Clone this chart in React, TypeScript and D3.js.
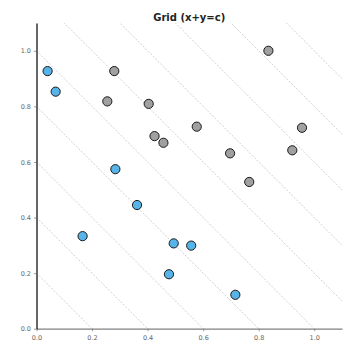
import React, { useEffect, useRef } from 'react';
import * as d3 from 'd3';

// points below the x+y=1 line
const blueX = [0.040, 0.069, 0.284, 0.362, 0.166, 0.494, 0.557, 0.477, 0.716];
const blueY = [0.927, 0.853, 0.574, 0.445, 0.333, 0.307, 0.299, 0.196, 0.122];
// points above it
const grayX = [0.835, 0.280, 0.255, 0.404, 0.425, 0.457, 0.577, 0.697, 0.766, 0.921, 0.956];
const grayY = [1.0, 0.927, 0.818, 0.809, 0.693, 0.669, 0.727, 0.631, 0.528, 0.642, 0.723];

const tickValues = [0, 0.2, 0.4, 0.6, 0.8, 1.0];
const gridLevels = [0.2, 0.4, 0.6, 0.8, 1.0, 1.2, 1.4, 1.6, 1.8, 2.0];
const title = 'Grid (x+y=c)';

const App = () => {
  const ref = useRef<SVGSVGElement>(null);

  useEffect(() => {
    const width = 360;
    const height = 352;
    const margin = { top: 23, right: 18, bottom: 23.3, left: 36.5 };

    const svg = d3.select(ref.current);
    svg.selectAll('*').remove();

    const x = d3.scaleLinear().domain([0, 1.1]).range([margin.left, width - margin.right]);
    const y = d3.scaleLinear().domain([0, 1.1]).range([height - margin.bottom, margin.top]);

    svg.append('defs')
      .append('clipPath')
      .attr('id', 'plot-clip')
      .append('rect')
      .attr('x', x(0))
      .attr('y', y(1.1))
      .attr('width', x(1.1) - x(0))
      .attr('height', y(0) - y(1.1));

    // diagonal x+y=c lines
    svg.append('g')
      .attr('clip-path', 'url(#plot-clip)')
      .selectAll('line')
      .data(gridLevels)
      .enter()
      .append('line')
      .attr('x1', (c) => x(0))
      .attr('y1', (c) => y(c))
      .attr('x2', (c) => x(c))
      .attr('y2', (c) => y(0))
      .attr('stroke', '#c4c4c4')
      .attr('stroke-width', 0.8)
      .attr('stroke-dasharray', '2,1.5');

    const font = 'DejaVu Sans, sans-serif';

    // x axis
    const xAxis = svg.append('g')
      .attr('transform', `translate(0, ${y(0)})`)
      .call(d3.axisBottom(x).tickValues(tickValues).tickFormat(d3.format('.1f')).tickSize(2.5).tickSizeOuter(0));
    xAxis.select('.domain').attr('stroke', '#808080').attr('stroke-width', 1.2);
    xAxis.selectAll('.tick line').attr('stroke', '#808080').attr('stroke-width', 0.8);
    xAxis.selectAll('.tick text')
      .attr('fill', '#666')
      .attr('font-family', font)
      .attr('font-size', 6.5)
      .attr('dy', '0.9em');

    // y axis
    const yAxis = svg.append('g')
      .attr('transform', `translate(${x(0)}, 0)`)
      .call(d3.axisLeft(y).tickValues(tickValues).tickFormat(d3.format('.1f')).tickSize(2.5).tickSizeOuter(0));
    yAxis.select('.domain').attr('stroke', '#000').attr('stroke-width', 1.2);
    yAxis.selectAll('.tick line').attr('stroke', '#808080').attr('stroke-width', 0.8);
    yAxis.selectAll('.tick text')
      .attr('fill', '#666')
      .attr('font-family', font)
      .attr('font-size', 6.5)
      .attr('x', -5.5);

    const drawPoints = (xs: number[], ys: number[], fill: string) => {
      svg.append('g')
        .selectAll('circle')
        .data(xs.map((d, i) => [d, ys[i]]))
        .enter()
        .append('circle')
        .attr('cx', (d) => x(d[0]))
        .attr('cy', (d) => y(d[1]))
        .attr('r', 4.6)
        .attr('fill', fill)
        .attr('stroke', '#1a1a1a')
        .attr('stroke-width', 1);
    };
    drawPoints(grayX, grayY, '#a0a0a0');
    drawPoints(blueX, blueY, '#56b4e9');

    svg.append('text')
      .attr('x', (x(0) + x(1.1)) / 2)
      .attr('y', 20.5)
      .attr('text-anchor', 'middle')
      .attr('font-family', font)
      .attr('font-weight', 'bold')
      .attr('font-size', 10)
      .attr('fill', '#222')
      .text(title);
  }, []);

  return (
    <svg
      ref={ref}
      width={360}
      height={352}
      style={{ position: 'absolute', left: 0, top: 0, background: '#fff' }}
    />
  );
};

export default App;
